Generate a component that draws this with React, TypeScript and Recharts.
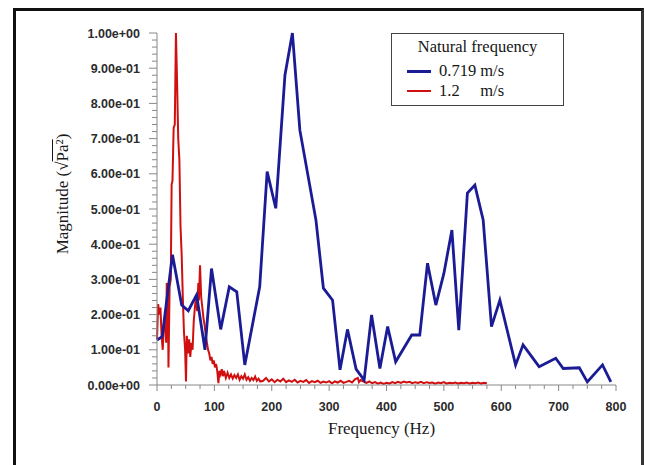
import React from "react";
import { LineChart, Line, XAxis, YAxis, Legend } from "recharts";

// Blue series: 0.719 m/s  [frequency Hz, magnitude]
const blueSpectrum: [number, number][] = [
  [0, 0.128], [9, 0.137], [27, 0.37], [43, 0.227], [54.5, 0.211], [69, 0.256],
  [83.6, 0.1], [95, 0.331], [111, 0.158], [126, 0.279], [139, 0.265], [153, 0.057],
  [179, 0.279], [192, 0.606], [207, 0.502], [223, 0.88], [236, 1.0], [249, 0.724],
  [277, 0.469], [290, 0.275], [306, 0.241], [319, 0.043], [332, 0.158], [347, 0.045],
  [361, 0.014], [374, 0.199], [388.5, 0.047], [402, 0.166], [416, 0.066], [444, 0.142],
  [458, 0.142], [471.5, 0.346], [486, 0.227], [500, 0.317], [514, 0.44], [526, 0.156],
  [541, 0.545], [554, 0.568], [568.5, 0.469], [583, 0.166], [597.6, 0.241], [625, 0.057],
  [638, 0.114], [666, 0.052], [695, 0.076], [708, 0.047], [736, 0.049], [750, 0.009],
  [776.5, 0.057], [791, 0.009],
];

// Red series: 1.2 m/s  [frequency Hz, magnitude]
const redSpectrum: [number, number][] = [
  [0, 0.13], [2, 0.23], [4, 0.2], [6, 0.22], [8, 0.14], [10, 0.1], [12, 0.17], [14, 0.19],
  [16, 0.12], [17, 0.29], [19, 0.26], [20, 0.05], [22, 0.28], [24, 0.3], [25.5, 0.57],
  [27, 0.58], [29, 0.73], [31, 0.74], [33, 1.0], [35, 0.86], [37, 0.7], [39, 0.64],
  [41, 0.45], [43, 0.37], [45, 0.25], [47, 0.15], [49, 0.1], [50.5, 0.01], [52, 0.14],
  [54, 0.09], [56, 0.13], [58, 0.08], [60, 0.12], [62, 0.1], [64, 0.18], [66, 0.22],
  [68, 0.25], [70, 0.21], [72, 0.29], [73, 0.24], [75, 0.34], [77, 0.25], [79, 0.22],
  [81, 0.19], [83, 0.17], [85, 0.14], [87, 0.12], [89, 0.1], [91, 0.09], [93, 0.07],
  [95, 0.08], [97, 0.06], [99, 0.07], [101, 0.05], [103, 0.06], [105, 0.04], [107, 0.005],
  [109, 0.04], [111, 0.03], [113, 0.045], [115, 0.025], [117, 0.04], [120, 0.02],
  [123, 0.035], [126, 0.02], [129, 0.03], [132, 0.018], [135, 0.028], [138, 0.02],
  [141, 0.03], [144, 0.015], [147, 0.025], [150, 0.018], [153, 0.03], [156, 0.015],
  [159, 0.022], [162, 0.012], [165, 0.02], [168, 0.014], [171, 0.024], [174, 0.012],
  [177, 0.018], [180, 0.01], [185, 0.012], [190, 0.02], [195, 0.01], [200, 0.016],
  [205, 0.008], [210, 0.015], [215, 0.01], [220, 0.018], [225, 0.008], [230, 0.013],
  [235, 0.009], [240, 0.015], [245, 0.007], [250, 0.012], [255, 0.009], [260, 0.014],
  [265, 0.006], [270, 0.011], [275, 0.008], [280, 0.012], [285, 0.006], [290, 0.01],
  [295, 0.007], [300, 0.011], [305, 0.005], [310, 0.01], [315, 0.007], [320, 0.012],
  [325, 0.006], [330, 0.009], [335, 0.012], [340, 0.007], [345, 0.016], [350, 0.02],
  [352, 0.008], [355, 0.014], [360, 0.01], [365, 0.006], [370, 0.01], [375, 0.005],
  [380, 0.008], [385, 0.004], [390, 0.007], [395, 0.003], [400, 0.006], [405, 0.004],
  [410, 0.008], [415, 0.005], [420, 0.009], [425, 0.006], [430, 0.01], [435, 0.007],
  [440, 0.009], [445, 0.005], [450, 0.008], [455, 0.006], [460, 0.009], [465, 0.005],
  [470, 0.008], [475, 0.006], [480, 0.007], [485, 0.004], [490, 0.007], [495, 0.005],
  [500, 0.008], [505, 0.004], [510, 0.006], [515, 0.005], [520, 0.007], [525, 0.004],
  [530, 0.006], [535, 0.005], [540, 0.007], [545, 0.004], [550, 0.006], [555, 0.005],
  [560, 0.007], [565, 0.004], [570, 0.006], [575, 0.005],
];

const seriesNames = ["0.719 m/s", "1.2     m/s"];
const seriesColors = ["#1b1b96", "#d01010"];
const legendTitle = "Natural frequency";

const xMajorTicks = [0, 100, 200, 300, 400, 500, 600, 700, 800];
const xMajorLabels = ["0", "100", "200", "300", "400", "500", "600", "700", "800"];
const yMajorTicks = [0, 0.1, 0.2, 0.3, 0.4, 0.5, 0.6, 0.7, 0.8, 0.9, 1.0];
const yMajorLabels = [
  "0.00e+00", "1.00e-01", "2.00e-01", "3.00e-01", "4.00e-01", "5.00e-01",
  "6.00e-01", "7.00e-01", "8.00e-01", "9.00e-01", "1.00e+00",
];
const xAllTicks = Array.from({ length: 33 }, (_, i) => i * 25);
const yAllTicks = Array.from({ length: 51 }, (_, i) => (i * 2) / 100);

const blueData = blueSpectrum.map(([f, m]) => ({ f, m }));
const redData = redSpectrum.map(([f, m]) => ({ f, m }));

const tickFont = {
  fontFamily: "'Liberation Sans', Arial, sans-serif",
  fontWeight: 700,
  fontSize: 12.5,
  fill: "#2b2b2b",
};

const XTick = (props: any) => {
  const { x, y, payload } = props;
  const idx = xMajorTicks.findIndex((t) => Math.abs(t - payload.value) < 1e-6);
  const major = idx >= 0;
  return (
    <g>
      <line x1={x} x2={x} y1={y} y2={y + (major ? 6 : 4)} stroke="#888" strokeWidth={1} />
      {major && (
        <text x={x} y={y + 26} textAnchor="middle" {...tickFont}>
          {xMajorLabels[idx]}
        </text>
      )}
    </g>
  );
};

const YTick = (props: any) => {
  const { x, y, payload } = props;
  const idx = yMajorTicks.findIndex((t) => Math.abs(t - payload.value) < 1e-6);
  const major = idx >= 0;
  return (
    <g>
      <line x1={x - (major ? 8 : 5)} x2={x} y1={y} y2={y} stroke="#888" strokeWidth={1} />
      {major && (
        <text x={x - 17} y={y + 4.5} textAnchor="end" {...tickFont}>
          {yMajorLabels[idx]}
        </text>
      )}
    </g>
  );
};

const serif = "'Liberation Serif', 'Times New Roman', Times, serif";

const LegendBox = () => (
  <div
    style={{
      width: 173,
      height: 73,
      boxSizing: "border-box",
      border: "1.5px solid #444",
      background: "#fff",
      position: "relative",
      fontFamily: serif,
      fontSize: 16.5,
      color: "#151515",
      lineHeight: "20px",
    }}
  >
    <div style={{ position: "absolute", top: 3, left: 0, width: "100%", textAlign: "center" }}>
      {legendTitle}
    </div>
    {seriesNames.map((name, i) => (
      <div key={name} style={{ position: "absolute", top: 27 + i * 20, left: 0, width: "100%", height: 20 }}>
        <div
          style={{
            position: "absolute",
            left: 15,
            top: 9,
            width: 24,
            height: i === 0 ? 2.5 : 2,
            background: seriesColors[i],
          }}
        />
        <div style={{ position: "absolute", left: 47, top: 0, whiteSpace: "pre" }}>{name}</div>
      </div>
    ))}
  </div>
);

export default function App() {
  return (
    <div style={{ position: "fixed", left: 0, top: 0, width: 645, height: 465, background: "#fff", overflow: "hidden" }}>
      <div
        style={{
          position: "absolute",
          left: 13,
          top: 8,
          width: 631,
          height: 500,
          boxSizing: "border-box",
          borderTop: "3px solid #111",
          borderLeft: "3px solid #111",
          borderRight: "3px solid #333",
        }}
      />
      <div style={{ position: "absolute", left: 0, top: 0 }}>
        <LineChart width={645} height={465} margin={{ top: 33, right: 29, bottom: 50, left: 0 }}>
          <XAxis
            type="number"
            dataKey="f"
            domain={[0, 800]}
            ticks={xAllTicks}
            interval={0}
            tickSize={0}
            tickMargin={0}
            tickLine={false}
            axisLine={{ stroke: "#888" }}
            tick={<XTick />}
            height={30}
            allowDuplicatedCategory={false}
          />
          <YAxis
            type="number"
            dataKey="m"
            domain={[0, 1]}
            ticks={yAllTicks}
            interval={0}
            tickSize={0}
            tickMargin={0}
            tickLine={false}
            axisLine={{ stroke: "#888" }}
            tick={<YTick />}
            width={157}
          />
          <Legend
            layout="horizontal"
            verticalAlign="middle"
            align="center"
            wrapperStyle={{ top: 33, left: 391, width: 173, height: 73 }}
            content={() => <LegendBox />}
          />
          <Line
            data={redData}
            dataKey="m"
            name={seriesNames[1]}
            stroke={seriesColors[1]}
            strokeWidth={2}
            dot={false}
            activeDot={false}
            isAnimationActive={false}
          />
          <Line
            data={blueData}
            dataKey="m"
            name={seriesNames[0]}
            stroke={seriesColors[0]}
            strokeWidth={2.8}
            dot={false}
            activeDot={false}
            isAnimationActive={false}
          />
        </LineChart>
      </div>
      <div
        style={{
          position: "absolute",
          left: 281.5,
          top: 419,
          width: 200,
          lineHeight: "20px",
          textAlign: "center",
          fontFamily: serif,
          fontSize: 17,
          color: "#1a1a1a",
        }}
      >
        Frequency (Hz)
      </div>
      <div
        style={{
          position: "absolute",
          left: -37,
          top: 183.5,
          width: 200,
          height: 20,
          lineHeight: "20px",
          textAlign: "center",
          fontFamily: serif,
          fontSize: 17,
          color: "#1a1a1a",
          transform: "rotate(-90deg)",
          whiteSpace: "nowrap",
        }}
      >
        Magnitude (√<span style={{ textDecoration: "overline" }}>Pa²</span>)
      </div>
    </div>
  );
}
